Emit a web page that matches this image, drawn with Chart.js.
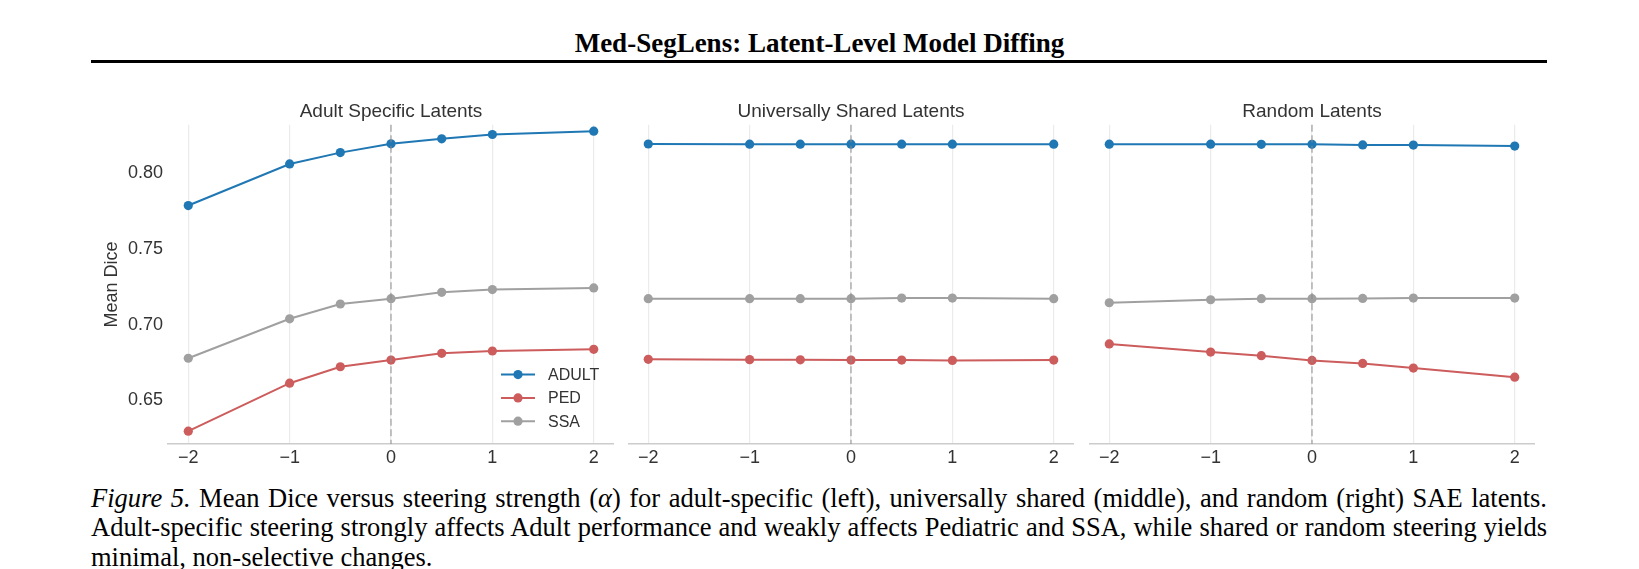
<!DOCTYPE html>
<html>
<head>
<meta charset="utf-8">
<script src="https://cdn.jsdelivr.net/npm/chart.js@4.4.1/dist/chart.umd.min.js"></script>
<style>
  html, body { margin: 0; padding: 0; background: #fff; }
  body { width: 1639px; height: 569px; position: relative; overflow: hidden; }
  canvas { position: absolute; }
  #header { position: absolute; left: 0; width: 1639px; top: 30px; text-align: center;
            font: bold 27px/27px "Liberation Serif", "Times New Roman", serif; color: #000; }
  #rule { position: absolute; left: 91px; width: 1456px; top: 60px; height: 3px; background: #000; }
  .cap { position: absolute; left: 91px; width: 1456px; color: #000;
         font: 26.5px/27px "Liberation Serif", "Times New Roman", serif; }
  .cap.j { text-align: justify; text-align-last: justify; }
</style>
</head>
<body>
<div id="header">Med-SegLens: Latent-Level Model Diffing</div>
<div id="rule"></div>

<canvas id="adultChart" width="519" height="374" style="left:95px;top:100px;width:519px;height:374px"></canvas>
<canvas id="sharedChart" width="446" height="374" style="left:628px;top:100px;width:446px;height:374px"></canvas>
<canvas id="randomChart" width="446" height="374" style="left:1089px;top:100px;width:446px;height:374px"></canvas>

<div class="cap j" style="top:485px"><i>Figure 5.</i> Mean Dice versus steering strength (<i>α</i>) for adult-specific (left), universally shared (middle), and random (right) SAE latents.</div>
<div class="cap j" style="top:514px">Adult-specific steering strongly affects Adult performance and weakly affects Pediatric and SSA, while shared or random steering yields</div>
<div class="cap" style="top:544px">minimal, non-selective changes.</div>

<script>
// steering strength (alpha)
const alphas = [-2, -1, -0.5, 0, 0.5, 1, 2];
const xTicks = [-2, -1, 0, 1, 2];
const yTicks = [0.65, 0.70, 0.75, 0.80];
const yMin = 0.621;
const yMax = 0.8321;

// 成人特异 latent
const adultSpecAdult = [0.7787, 0.8062, 0.8137, 0.8195, 0.8228, 0.8257, 0.8279];
const adultSpecPed   = [0.6295, 0.6612, 0.6721, 0.6765, 0.6810, 0.6825, 0.6836];
const adultSpecSsa   = [0.6777, 0.7038, 0.7136, 0.7171, 0.7213, 0.7231, 0.7242];

// 共享 latent
const sharedAdult = [0.8194, 0.8193, 0.8193, 0.8193, 0.8193, 0.8193, 0.8193];
const sharedPed   = [0.6770, 0.6768, 0.6767, 0.6765, 0.6765, 0.6763, 0.6765];
const sharedSsa   = [0.7171, 0.7171, 0.7171, 0.7171, 0.7175, 0.7175, 0.7171];

// 随机 latent
const randomAdult = [0.8193, 0.8193, 0.8192, 0.8192, 0.8188, 0.8187, 0.8180];
const randomPed   = [0.6872, 0.6818, 0.6794, 0.6763, 0.6743, 0.6712, 0.6652];
const randomSsa   = [0.7144, 0.7164, 0.7171, 0.7171, 0.7173, 0.7175, 0.7175];

const seriesNames = ['ADULT', 'PED', 'SSA'];
const seriesColors = ['#1f77b4', '#cd5c5c', '#a0a0a0'];

const FONT = '"Liberation Sans", Arial, sans-serif';
const TEXT = '#333333';
Chart.defaults.font.family = FONT;

// dashed line at alpha = 0, drawn over the data
const zeroLine = {
    id: 'zeroLine',
    afterDatasetsDraw(chart) {
        const { ctx, chartArea } = chart;
        const x = chart.scales.x.getPixelForValue(0);
        ctx.save();
        ctx.strokeStyle = 'rgba(140, 140, 140, 0.55)';
        ctx.lineWidth = 1.8;
        ctx.setLineDash([7, 3.5]);
        ctx.beginPath();
        ctx.moveTo(x, chartArea.top);
        ctx.lineTo(x, chartArea.bottom);
        ctx.stroke();
        ctx.restore();
    }
};

// legend inside the plot, bottom right (first panel only)
const innerLegend = {
    id: 'innerLegend',
    afterDatasetsDraw(chart, args, opts) {
        if (!opts.show) return;
        const { ctx, chartArea } = chart;
        const x0 = chartArea.right - 113;
        ctx.save();
        chart.data.datasets.forEach((ds, i) => {
            const y = chartArea.bottom - 69.4 + i * 23.3;
            ctx.strokeStyle = ds.borderColor;
            ctx.lineWidth = 2;
            ctx.beginPath();
            ctx.moveTo(x0, y);
            ctx.lineTo(x0 + 34, y);
            ctx.stroke();
            ctx.fillStyle = ds.pointBackgroundColor;
            ctx.beginPath();
            ctx.arc(x0 + 17, y, 4.6, 0, Math.PI * 2);
            ctx.fill();
            ctx.fillStyle = TEXT;
            ctx.font = '16px ' + FONT;
            ctx.textBaseline = 'middle';
            ctx.textAlign = 'left';
            ctx.fillText(ds.label, x0 + 47, y + 1);
        });
        ctx.restore();
    }
};

function makePanel(id, title, series, showY) {
    const ctx = document.getElementById(id).getContext('2d');
    new Chart(ctx, {
        type: 'line',
        data: {
            datasets: series.map((vals, k) => ({
                label: seriesNames[k],
                data: alphas.map((a, i) => ({ x: a, y: vals[i] })),
                borderColor: seriesColors[k],
                backgroundColor: seriesColors[k],
                pointBackgroundColor: seriesColors[k],
                pointBorderWidth: 0,
                pointRadius: 4.6,
                borderWidth: 2,
                tension: 0,
                fill: false
            }))
        },
        options: {
            responsive: false,
            animation: false,
            layout: { padding: 0, autoPadding: false },
            plugins: {
                legend: { display: false },
                tooltip: { enabled: false },
                title: {
                    display: true,
                    text: title,
                    fullSize: false,
                    color: TEXT,
                    font: { size: 19, weight: 'normal' },
                    padding: { top: 0, bottom: 2 }
                },
                innerLegend: { show: showY }
            },
            scales: {
                x: {
                    type: 'linear',
                    min: -2.2,
                    max: 2.2,
                    afterBuildTicks: ax => { ax.ticks = xTicks.map(v => ({ value: v })); },
                    afterFit: ax => { ax.height = 30; },
                    grid: { color: '#ebebeb', lineWidth: 1.2, drawTicks: false },
                    border: { display: true, color: '#cccccc', width: 1.5 },
                    ticks: {
                        padding: 3,
                        color: TEXT,
                        font: { size: 18 },
                        callback: v => v < 0 ? '\u2212' + Math.abs(v) : String(v)
                    }
                },
                y: {
                    type: 'linear',
                    min: yMin,
                    max: yMax,
                    display: showY,
                    afterBuildTicks: ax => { ax.ticks = yTicks.map(v => ({ value: v })); },
                    afterFit: ax => { if (showY) ax.width = 73; },
                    grid: { display: false, drawTicks: false },
                    border: { display: false },
                    ticks: {
                        padding: 5,
                        color: TEXT,
                        font: { size: 18 },
                        callback: v => v.toFixed(2)
                    },
                    title: {
                        display: true,
                        text: 'Mean Dice',
                        color: TEXT,
                        font: { size: 18 },
                        padding: { top: 6, bottom: 0 }
                    }
                }
            }
        },
        plugins: [zeroLine, innerLegend]
    });
}

makePanel('adultChart', 'Adult Specific Latents', [adultSpecAdult, adultSpecPed, adultSpecSsa], true);
makePanel('sharedChart', 'Universally Shared Latents', [sharedAdult, sharedPed, sharedSsa], false);
makePanel('randomChart', 'Random Latents', [randomAdult, randomPed, randomSsa], false);
</script>
</body>
</html>
